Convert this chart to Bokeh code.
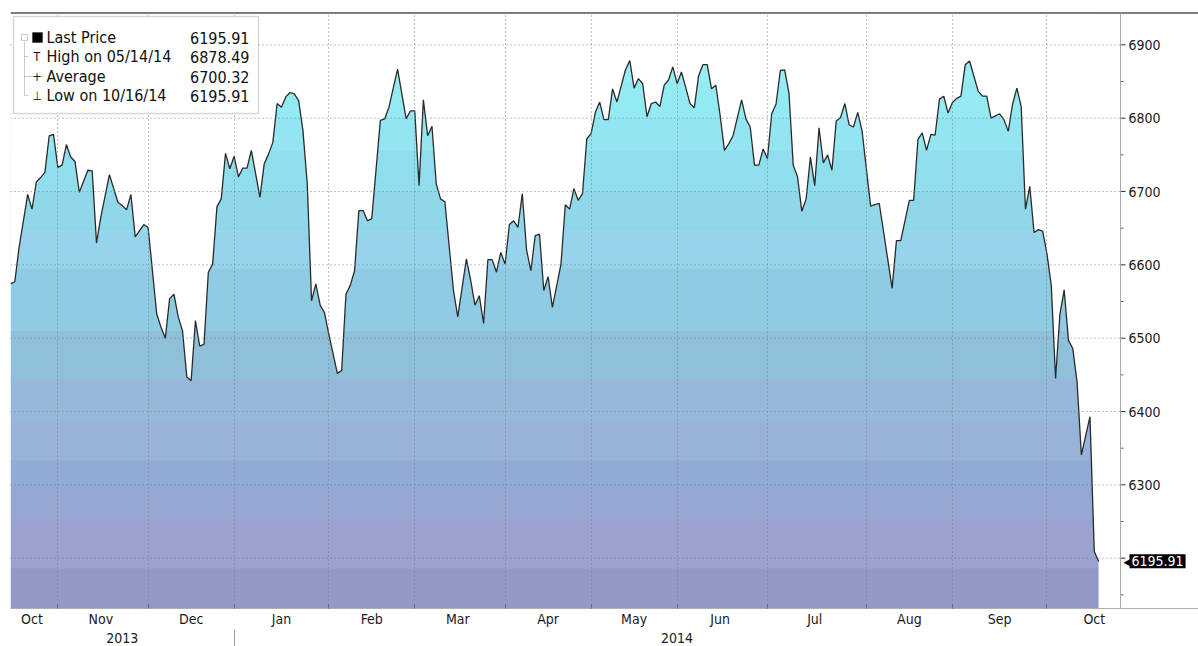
from bokeh.plotting import figure
from bokeh.models import LinearAxis, FixedTicker, Range1d, Label, BoxAnnotation, PolyAnnotation, Span
from bokeh.core.properties import value
from bokeh.embed import file_html
from bokeh.resources import INLINE

FONT = "DejaVu Sans Condensed"

# ---- data (trading-day index, close) ----
day_idx = [0, 1, 2, 3, 4, 5, 6, 7, 8, 9, 10, 11, 12, 13, 14, 15, 16, 18, 19, 20,
           21, 23, 25, 26, 27, 28, 29, 31, 32, 34, 35, 36, 37, 38, 39, 40, 41, 42, 43, 44,
           45, 46, 47, 48, 49, 50, 51, 52, 53, 54, 55, 56, 58, 59, 60, 61, 62, 63, 64, 65,
           66, 67, 68, 69, 70, 71, 72, 73, 74, 76, 77, 78, 79, 80, 81, 82, 83, 84, 86, 87,
           88, 90, 92, 93, 94, 95, 96, 97, 98, 99, 100, 101, 103, 104, 106, 107, 108, 109, 110, 111,
           112, 113, 114, 115, 116, 117, 118, 119, 120, 121, 122, 123, 124, 125, 126, 128, 129, 130, 131, 132,
           133, 134, 135, 136, 137, 138, 139, 140, 141, 143, 144, 145, 146, 147, 148, 149, 150, 151, 152, 153,
           154, 155, 156, 157, 158, 159, 160, 161, 162, 163, 164, 165, 166, 167, 168, 170, 171, 172, 173, 174,
           175, 176, 177, 178, 179, 180, 181, 182, 183, 184, 185, 186, 187, 188, 189, 190, 191, 192, 193, 194,
           195, 196, 197, 198, 200, 201, 202, 205, 206, 207, 209, 210, 211, 212, 213, 214, 215, 216, 217, 218,
           219, 220, 221, 222, 223, 225, 226, 227, 228, 230, 231, 232, 233, 234, 235, 236, 237, 238, 239, 240,
           241, 242, 243, 244, 245, 246, 247, 248, 249, 251, 252, 253]
price = [6574, 6577, 6624, 6660, 6696, 6676, 6713, 6719, 6726, 6776, 6778, 6733, 6736, 6764, 6747, 6741, 6699, 6729, 6728, 6630,
         6665, 6723, 6685, 6681, 6675, 6696, 6638, 6655, 6651, 6533, 6515, 6500, 6554, 6560, 6529, 6510, 6447, 6442, 6524, 6489,
         6492, 6590, 6601, 6679, 6690, 6752, 6731, 6748, 6720, 6732, 6732, 6756, 6692, 6738, 6751, 6767, 6820, 6815, 6829, 6835,
         6833, 6824, 6783, 6711, 6551, 6574, 6545, 6535, 6506, 6452, 6456, 6560, 6572, 6592, 6674, 6674, 6660, 6663, 6797, 6799,
         6815, 6867, 6799, 6810, 6810, 6708, 6825, 6776, 6789, 6710, 6690, 6686, 6565, 6529, 6608, 6579, 6545, 6558, 6520, 6607,
         6607, 6590, 6617, 6601, 6655, 6660, 6651, 6697, 6620, 6592, 6640, 6642, 6565, 6584, 6542, 6601, 6682, 6676, 6704, 6688,
         6697, 6772, 6779, 6808, 6822, 6798, 6798, 6840, 6822, 6866, 6878.49, 6841, 6854, 6847, 6802, 6820, 6822, 6816, 6845, 6852,
         6870, 6847, 6863, 6842, 6820, 6814, 6858, 6873, 6873, 6840, 6845, 6804, 6756, 6765, 6776, 6825, 6799, 6788, 6736, 6736,
         6758, 6745, 6806, 6819, 6865, 6866, 6835, 6736, 6720, 6673, 6690, 6747, 6708, 6787, 6739, 6750, 6729, 6796, 6801, 6820,
         6791, 6788, 6808, 6783, 6680, 6682, 6684, 6568, 6633, 6633, 6688, 6688, 6771, 6780, 6756, 6778, 6777, 6826, 6830, 6807,
         6821, 6827, 6830, 6873, 6878, 6837, 6830, 6830, 6800, 6806, 6798, 6782, 6819, 6841, 6816, 6676, 6707, 6644, 6648, 6646,
         6615, 6572, 6445, 6532, 6566, 6497, 6486, 6440, 6341, 6393, 6209, 6195.91]

month_names = ["Oct", "Nov", "Dec", "Jan", "Feb", "Mar", "Apr", "May", "Jun", "Jul", "Aug", "Sep", "Oct"]
month_bounds = [11, 32, 52, 74, 94, 115, 135, 155, 176, 199, 219, 241]
year_names = ["2013", "2014"]
y_ticks = [6200, 6300, 6400, 6500, 6600, 6700, 6800, 6900]
y_minor = [6150, 6250, 6350, 6450, 6550, 6650, 6750, 6850]

legend_names = ["Last Price", "High on 05/14/14", "Average", "Low on 10/16/14"]
legend_values = ["6195.91", "6878.49", "6700.32", "6195.91"]
last_price = 6195.91

band_edges = [6100, 6186, 6252, 6293, 6333, 6384, 6445, 6510, 6595, 6645, 6700, 6756, 6800, 6850, 7000]
band_colors = ["#9498c6", "#9aa2cf", "#97a7d3", "#91aad6", "#98b2d8", "#97b8da", "#8fc0da",
               "#8fcbe3", "#97d4eb", "#8fd8e9", "#90deed", "#93e5f1", "#94eaf3", "#96eef5"]

# ---- layout (page pixels -> data) ----
W, H = 1198, 646
FL, FT, FB = 10, 12, 608          # frame left / top / bottom in page px
PX_PER_DAY = 4.3007
X0 = 0.0
X1 = (W - FL) / PX_PER_DAY
Y1 = 6944.1
Y0 = 6131.4
AXIS_X = (1120 - FL) / PX_PER_DAY  # position of the price axis line


def dx(px):
    return X0 + (px - FL) / PX_PER_DAY


def dy(py):
    return Y1 - (py - FT) * (Y1 - Y0) / (FB - FT)


def ddx(npx):
    return npx / PX_PER_DAY


p = figure(width=W, height=H, x_range=Range1d(X0, X1), y_range=Range1d(Y0, Y1),
           y_axis_location=None, output_backend="svg", toolbar_location=None,
           min_border_left=FL, min_border_top=FT, min_border_right=0, min_border_bottom=H - FB,
           background_fill_color="white", border_fill_color="white")
p.outline_line_color = None
p.ygrid.visible = False

# gradient bands (slightly overlapped to avoid seams), masked above the line
band_tops = [e + 0.8 for e in band_edges[1:]]
p.quad(left=day_idx[0], right=day_idx[-1], bottom=band_edges[:-1], top=band_tops,
       fill_color=band_colors, line_color=None)
mask_x = [day_idx[0] - 1] + day_idx + [day_idx[-1] + ddx(3)]
mask_y = [price[0]] + price + [price[-1]]
p.varea(x=mask_x, y1=mask_y, y2=Y1 + 20, fill_color="white")
p.line(day_idx, price, line_color="#2a2a2a", line_width=1.3)

# horizontal dotted grid (up to the price axis)
p.segment(x0=X0, x1=AXIS_X, y0=y_ticks, y1=y_ticks, line_color="#808080",
          line_dash="1 3", line_width=1)

# vertical dotted grid at month boundaries
p.xgrid.ticker = FixedTicker(ticks=month_bounds)
g = p.xgrid[0]
g.grid_line_color = "#808080"
g.grid_line_dash = "1 3"
g.grid_line_width = 1
g.level = "guide"

# month axis
starts = [0] + month_bounds
ends = month_bounds + [month_bounds[-1] + 22]
month_centers = [(s + e) // 2 for s, e in zip(starts, ends)]
xa = p.xaxis[0]
xa.ticker = FixedTicker(ticks=month_centers, minor_ticks=month_bounds)
xa.major_label_overrides = {c: n for c, n in zip(month_centers, month_names)}
xa.major_tick_line_color = None
xa.major_tick_out = 0
xa.major_tick_in = 0
xa.minor_tick_in = 4
xa.minor_tick_out = 0
xa.minor_tick_line_color = "#666666"
xa.axis_line_color = "#b0b0b0"
xa.major_label_text_font = FONT
xa.major_label_text_font_size = "14px"
xa.major_label_text_color = "#1a1a1a"
xa.major_label_standoff = 2

# year axis
year_centers = [(0 + month_bounds[2]) // 2, int((month_bounds[2] + AXIS_X) // 2)]
ya = LinearAxis(ticker=FixedTicker(ticks=year_centers, minor_ticks=[month_bounds[2]]),
                major_label_overrides={c: n for c, n in zip(year_centers, year_names)})
ya.axis_line_color = None
ya.major_tick_line_color = None
ya.major_tick_out = 0
ya.major_tick_in = 0
ya.minor_tick_in = 0
ya.minor_tick_out = 18
ya.minor_tick_line_color = "#999999"
ya.major_label_text_font = FONT
ya.major_label_text_font_size = "14px"
ya.major_label_text_color = "#1a1a1a"
ya.major_label_standoff = -15
p.add_layout(ya, "below")

# top border line
p.add_layout(Span(location=Y1, dimension="width", line_color="black", line_width=2))

# price axis (drawn on the right, inside the canvas)
p.add_layout(Span(location=AXIS_X, dimension="height", line_color="#a8a8a8", line_width=1))
p.segment(x0=AXIS_X, x1=AXIS_X + ddx(5), y0=y_ticks, y1=y_ticks, line_color="#333333", line_width=1)
p.segment(x0=AXIS_X, x1=AXIS_X + ddx(3), y0=y_minor, y1=y_minor, line_color="#666666", line_width=1)
p.text(x=[AXIS_X + ddx(8)] * (len(y_ticks) - 1), y=y_ticks[1:], text=[str(t) for t in y_ticks[1:]],
       text_font=value(FONT), text_font_size="14px", text_color="#1a1a1a",
       text_baseline="middle", text_align="left")

# last price tag
p.add_layout(Label(x=AXIS_X, y=last_price, x_offset=3, text="\u25c0", text_color="black",
                   text_font=FONT, text_font_size="13px", text_baseline="middle", text_align="left"))
p.add_layout(Label(x=AXIS_X, y=last_price, x_offset=9, text="6195.91", text_color="white",
                   text_font=FONT, text_font_size="14px", text_baseline="middle", text_align="left",
                   background_fill_color="black", padding=2))

# legend box
p.add_layout(BoxAnnotation(left=dx(13), right=dx(258), top=dy(16), bottom=dy(113),
                           fill_color="white", fill_alpha=1, line_color="#7a7a7a", line_width=1.5))
row_y = [37, 56, 76, 95]
for name, val, ry in zip(legend_names, legend_values, row_y):
    p.add_layout(Label(x=dx(46), y=dy(ry), text=name, text_font=FONT, text_font_size="16px",
                       text_color="#111111", text_baseline="middle", text_align="left"))
    p.add_layout(Label(x=dx(249), y=dy(ry), text=val, text_font=FONT, text_font_size="16px",
                       text_color="#111111", text_baseline="middle", text_align="right"))
# tree lines and icons
tree = "#555555"
p.add_layout(PolyAnnotation(xs=[dx(24), dx(24)], ys=[dy(41), dy(95)], fill_alpha=0,
                            line_color=tree, line_width=1))
for ry, x2 in zip(row_y[1:], [28, 43, 28]):
    p.add_layout(PolyAnnotation(xs=[dx(24), dx(x2)], ys=[dy(ry), dy(ry)], fill_alpha=0,
                                line_color=tree, line_width=1))
p.add_layout(BoxAnnotation(left=dx(21), right=dx(27), top=dy(34), bottom=dy(40),
                           fill_color="white", fill_alpha=1, line_color=tree, line_width=1))
p.add_layout(BoxAnnotation(left=dx(32), right=dx(42), top=dy(32), bottom=dy(42),
                           fill_color="black", fill_alpha=1, line_color="black", line_width=1))
for sym, ry, sx in [("T", 56, 33), ("+", 76, 32), ("\u22a5", 95, 32)]:
    p.add_layout(Label(x=dx(sx), y=dy(ry), text=sym, text_font=FONT, text_font_size="12px",
                       text_color="#111111", text_baseline="middle", text_align="left"))

open("out.html", "w").write(file_html(p, INLINE))
